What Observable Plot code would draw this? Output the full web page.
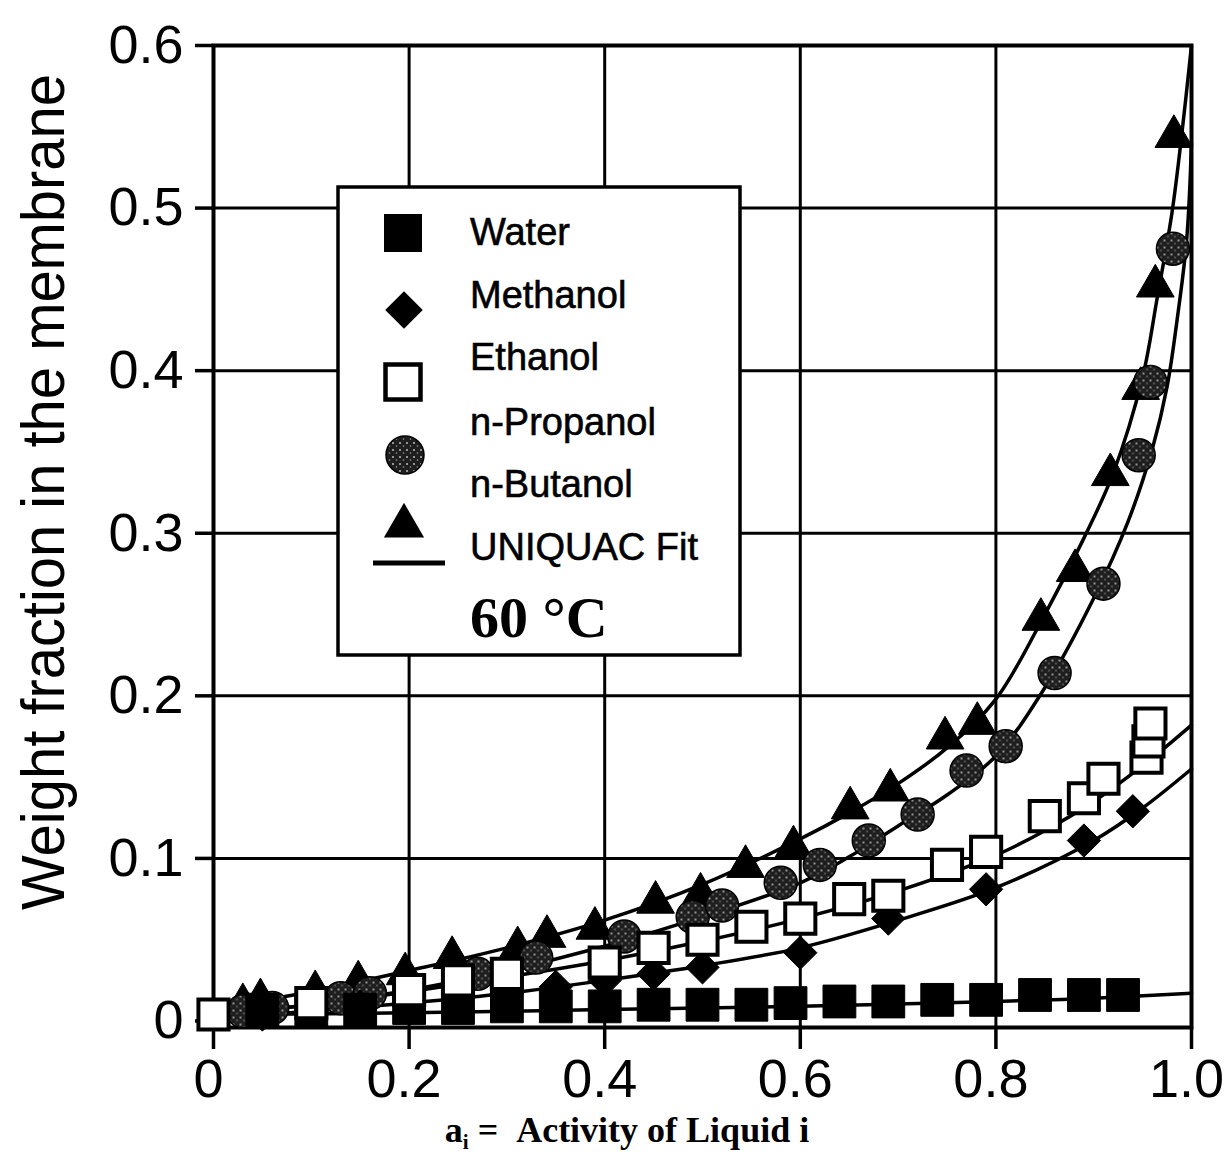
<!DOCTYPE html>
<html><head><meta charset="utf-8">
<script src="https://cdn.jsdelivr.net/npm/d3@7"></script>
<script src="https://cdn.jsdelivr.net/npm/@observablehq/plot@0.6"></script>
<style>
html,body{margin:0;padding:0;background:#fff;}
#chart{width:1226px;height:1157px;}
</style></head><body><div id="chart"></div>
<script>
// ---- tick labels ----
const xTicks = [0, 0.2, 0.4, 0.6, 0.8, 1.0];
const xTickLabels = ["0", "0.2", "0.4", "0.6", "0.8", "1.0"];
const yTicks = [0, 0.1, 0.2, 0.3, 0.4, 0.5, 0.6];
const yTickLabels = ["0", "0.1", "0.2", "0.3", "0.4", "0.5", "0.6"];
const legendLabels = ["Water", "Methanol", "Ethanol", "n-Propanol", "n-Butanol", "UNIQUAC Fit"];
const tempLabel = "60 °C";
const xTitle = "Activity of Liquid i";
const yTitle = "Weight fraction in the membrane";

// ---- measured points ----
const waterX = [0.05,0.1,0.15,0.2,0.25,0.3,0.35,0.4,0.45,0.5,0.55,0.59,0.64,0.69,0.74,0.79,0.84,0.89,0.93];
const waterY = [0.007,0.007,0.007,0.008,0.008,0.009,0.009,0.009,0.010,0.010,0.010,0.011,0.012,0.012,0.013,0.013,0.016,0.016,0.016];
const methX = [0.05,0.1,0.15,0.2,0.25,0.3,0.35,0.4,0.45,0.5,0.6,0.69,0.79,0.89,0.94];
const methY = [0.004,0.006,0.009,0.011,0.014,0.017,0.021,0.025,0.029,0.033,0.042,0.063,0.081,0.111,0.129];
const ethX = [0,0.1,0.2,0.25,0.3,0.4,0.45,0.5,0.55,0.6,0.65,0.69,0.75,0.79,0.85,0.89,0.91,0.954,0.956,0.958];
const ethY = [0.004,0.011,0.019,0.025,0.029,0.036,0.045,0.050,0.058,0.063,0.075,0.077,0.096,0.104,0.126,0.137,0.149,0.162,0.172,0.183];
const propX = [0.03,0.06,0.13,0.16,0.27,0.33,0.42,0.49,0.52,0.58,0.62,0.67,0.72,0.77,0.81,0.86,0.91,0.946,0.958,0.981];
const propY = [0.006,0.008,0.014,0.017,0.029,0.039,0.052,0.064,0.071,0.085,0.096,0.111,0.127,0.154,0.169,0.214,0.269,0.348,0.393,0.475];
const butX = [0.03,0.048,0.104,0.148,0.196,0.244,0.311,0.341,0.39,0.452,0.498,0.544,0.593,0.651,0.692,0.748,0.781,0.846,0.881,0.917,0.948,0.963,0.982];
const butY = [0.010,0.013,0.018,0.024,0.029,0.039,0.045,0.052,0.057,0.073,0.078,0.095,0.107,0.131,0.142,0.174,0.183,0.247,0.277,0.336,0.389,0.452,0.544];

// ---- UNIQUAC fit curves ----
const waterFitX = [0, 0.2, 0.4, 0.6, 0.8, 0.9, 1.0];
const waterFitY = [0.004, 0.005, 0.007, 0.009, 0.012, 0.014, 0.017];
const methFitX = [0, 0.1, 0.2, 0.3, 0.4, 0.5, 0.6, 0.7, 0.8, 0.9, 0.95, 1.0];
const methFitY = [0.002, 0.006, 0.011, 0.017, 0.025, 0.034, 0.045, 0.062, 0.082, 0.111, 0.131, 0.155];
const ethFitX = [0, 0.1, 0.2, 0.3, 0.4, 0.5, 0.6, 0.7, 0.8, 0.85, 0.9, 0.95, 1.0];
const ethFitY = [0.004, 0.010, 0.018, 0.027, 0.037, 0.049, 0.063, 0.080, 0.102, 0.117, 0.135, 0.157, 0.182];
const propFitX = [0, 0.1, 0.2, 0.3, 0.4, 0.5, 0.6, 0.65, 0.7, 0.75, 0.8, 0.85, 0.9, 0.935, 0.96, 0.975, 0.985, 0.995, 1.0];
const propFitY = [0.004, 0.010, 0.019, 0.031, 0.046, 0.064, 0.085, 0.101, 0.120, 0.139, 0.163, 0.205, 0.260, 0.307, 0.352, 0.390, 0.430, 0.480, 0.540];
const butFitX = [0, 0.1, 0.2, 0.3, 0.4, 0.5, 0.6, 0.65, 0.7, 0.75, 0.8, 0.85, 0.89, 0.92, 0.95, 0.965, 0.98, 0.99, 1.0];
const butFitY = [0.008, 0.018, 0.031, 0.045, 0.062, 0.084, 0.112, 0.128, 0.146, 0.168, 0.198, 0.250, 0.297, 0.337, 0.396, 0.445, 0.497, 0.545, 0.600];

const pts = (xs, ys) => xs.map((x, i) => ({x, y: ys[i]}));
const fits = [
  ["Water", waterFitX, waterFitY], ["Methanol", methFitX, methFitY], ["Ethanol", ethFitX, ethFitY],
  ["n-Propanol", propFitX, propFitY], ["n-Butanol", butFitX, butFitY]
].flatMap(([s, xs, ys]) => xs.map((x, i) => ({series: s, x, y: ys[i]})));

const plot = Plot.plot({
  width: 1226, height: 1157,
  marginLeft: 213, marginRight: 35, marginTop: 45, marginBottom: 130,
  x: {domain: [0, 1]},
  y: {domain: [-0.004, 0.6]},
  style: {fontFamily: "'Liberation Sans', Arial, sans-serif", background: "white", color: "black"},
  marks: [
    Plot.gridX(xTicks.slice(1, -1), {stroke: "black", strokeOpacity: 1, strokeWidth: 3}),
    Plot.gridY(yTicks.slice(1, -1), {stroke: "black", strokeOpacity: 1, strokeWidth: 3}),
    // x tick marks
    Plot.axisX(xTicks, {tickFormat: () => "", tickSize: 22, strokeWidth: 3.5, label: null}),
    // x tick labels (nudged left like the original)
    Plot.axisX(xTicks, {tickFormat: d => xTickLabels[xTicks.indexOf(d)], tickSize: 0, tickPadding: 31, fontSize: 54, dx: -5, label: null, fill: "black"}),
    Plot.axisY(yTicks, {tickFormat: d => yTickLabels[yTicks.indexOf(d)], tickSize: 18, tickPadding: 12, fontSize: 54, strokeWidth: 3.5, label: null, fill: "black"}),
    Plot.line(fits, {x: "x", y: "y", z: "series", curve: "catmull-rom", stroke: "black", strokeWidth: 3.5}),
    Plot.frame({stroke: "black", strokeWidth: 4}),
    Plot.dot(pts(butX, butY), {x: "x", y: "y", symbol: "triangle", r: 14, fill: "black", stroke: "black", strokeWidth: 1}),
    Plot.dot(pts(propX, propY), {x: "x", y: "y", symbol: "circle", r: 16.5, fill: "#262626", stroke: "black", strokeWidth: 1.5, className: "propdots"}),
    Plot.dot(pts(methX, methY), {x: "x", y: "y", symbol: "diamond2", r: 15, fill: "black", stroke: "black", strokeWidth: 1}),
    Plot.dot(pts(waterX, waterY), {x: "x", y: "y", symbol: "square", r: 18.5, fill: "black", stroke: "black", strokeWidth: 1}),
    Plot.dot(pts(ethX, ethY), {x: "x", y: "y", symbol: "square", r: 17, fill: "white", stroke: "black", strokeWidth: 4})
  ]
});

const svg = d3.select(plot);
// stipple pattern for propanol circles
const defs = svg.insert("defs", ":first-child");
const pat = defs.append("pattern").attr("id", "stip").attr("patternUnits", "userSpaceOnUse").attr("width", 7).attr("height", 7);
pat.append("rect").attr("width", 7).attr("height", 7).attr("fill", "#1e1e1e");
pat.append("circle").attr("cx", 2).attr("cy", 2).attr("r", 1).attr("fill", "#bbb");
pat.append("circle").attr("cx", 5.5).attr("cy", 5).attr("r", 0.8).attr("fill", "#999");
svg.selectAll(".propdots path, .propdots circle").attr("fill", "url(#stip)");

// y title
svg.append("text")
  .attr("transform", "translate(64,492) rotate(-90)")
  .attr("text-anchor", "middle")
  .attr("font-family", "'Liberation Sans', Arial, sans-serif")
  .attr("font-size", 62)
  .attr("textLength", 836).attr("lengthAdjust", "spacingAndGlyphs")
  .attr("fill", "black")
  .text(yTitle);

// x title with subscript
const xt = svg.append("text")
  .attr("x", 627).attr("y", 1142)
  .attr("text-anchor", "middle")
  .attr("font-family", "'Liberation Serif', 'Times New Roman', serif")
  .attr("font-weight", "bold").attr("font-size", 36).attr("fill", "black");
xt.append("tspan").text("a");
xt.append("tspan").attr("font-size", 21).attr("dy", 7).text("i");
xt.append("tspan").attr("dy", -7).text("\u00a0=\u00a0\u00a0" + xTitle);

// legend
const lg = svg.append("g").attr("text-anchor", "start");
lg.append("rect").attr("x", 338).attr("y", 187).attr("width", 402).attr("height", 468)
  .attr("fill", "white").attr("stroke", "black").attr("stroke-width", 3.5);
lg.append("path").attr("transform", "translate(403,233)").attr("d", d3.symbol(d3.symbolSquare, 1444)()).attr("fill", "black");
lg.append("path").attr("transform", "translate(404,310)").attr("d", d3.symbol(d3.symbolDiamond2, 900)()).attr("fill", "black");
lg.append("path").attr("transform", "translate(403,382)").attr("d", d3.symbol(d3.symbolSquare, 1225)()).attr("fill", "white").attr("stroke", "black").attr("stroke-width", 4.5);
lg.append("path").attr("transform", "translate(405,455)").attr("d", d3.symbol(d3.symbolCircle, 1134)()).attr("fill", "url(#stip)").attr("stroke", "black").attr("stroke-width", 1.5);
lg.append("path").attr("transform", "translate(404,526)").attr("d", d3.symbol(d3.symbolTriangle, 700)()).attr("fill", "black");
lg.append("line").attr("x1", 373).attr("x2", 445).attr("y1", 563).attr("y2", 563).attr("stroke", "black").attr("stroke-width", 5);
const baselines = [245, 308, 370, 435, 497, 560];
legendLabels.forEach((t, i) => {
  lg.append("text").attr("x", 470).attr("y", baselines[i])
    .attr("text-anchor", "start")
    .attr("font-family", "'Liberation Sans', Arial, sans-serif").attr("font-size", 38)
    .attr("fill", "black").attr("stroke", "black").attr("stroke-width", 0.6)
    .text(t);
});
lg.append("text").attr("x", 470).attr("y", 637)
  .attr("text-anchor", "start")
  .attr("font-family", "'Liberation Serif', 'Times New Roman', serif").attr("font-weight", "bold")
  .attr("font-size", 58).attr("fill", "black").text(tempLabel);

document.getElementById("chart").appendChild(plot);
</script>
</body></html>
